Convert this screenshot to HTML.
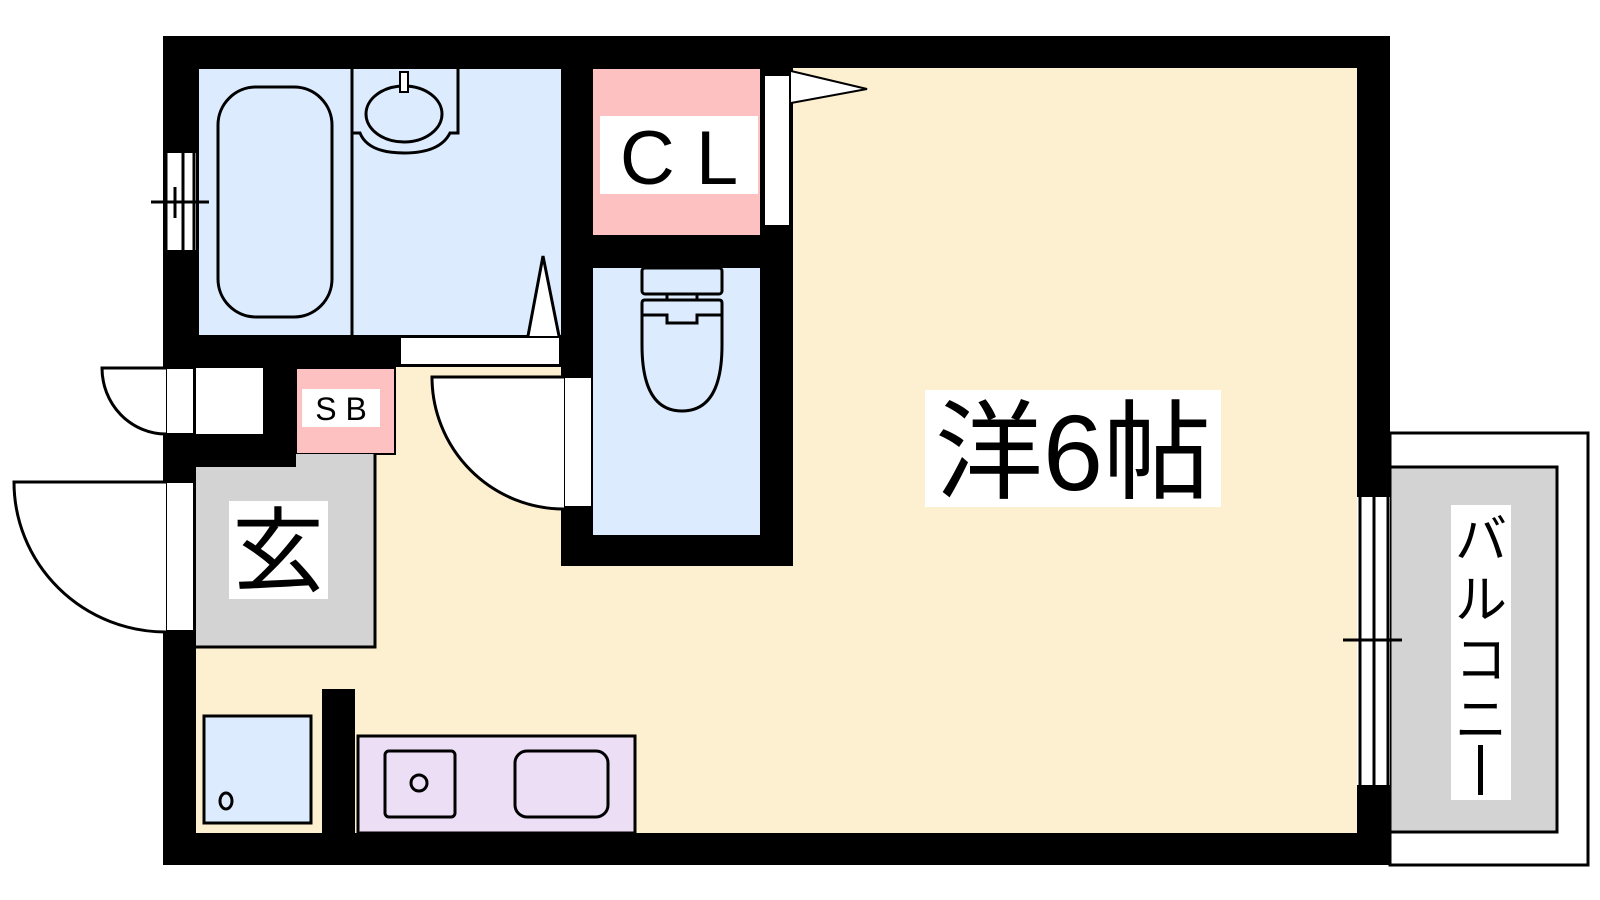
<!DOCTYPE html>
<html><head><meta charset="utf-8"><style>html,body{margin:0;padding:0;background:#fff;}svg{display:block}</style></head><body>
<svg width="1600" height="900" viewBox="0 0 1600 900" xmlns="http://www.w3.org/2000/svg">
<!-- balcony -->
<rect x="1390" y="433" width="198" height="432" fill="#fff" stroke="#000" stroke-width="3"/>
<rect x="1390" y="467" width="167" height="365" fill="#d3d3d3" stroke="#000" stroke-width="3"/>
<rect x="1451" y="505" width="60" height="295" fill="#fff"/>
<g font-family="'Liberation Sans','Noto Sans CJK JP',sans-serif" font-size="52" text-anchor="middle" fill="#000">
<text x="1481" y="558">バ</text><text x="1481" y="618">ル</text><text x="1481" y="678">コ</text><text x="1481" y="738">ニ</text>
</g>
<rect x="1478" y="745" width="5" height="50" fill="#000"/>
<!-- outer walls -->
<rect x="163" y="36" width="1227" height="829" fill="#000"/>
<rect x="196" y="68" width="1161" height="765" fill="#fdf0d0"/>
<!-- right window -->
<rect x="1357" y="497" width="33" height="288" fill="#fff"/>
<g stroke="#000" stroke-width="3"><line x1="1360" y1="497" x2="1360" y2="785"/><line x1="1374" y1="497" x2="1374" y2="785"/><line x1="1388" y1="497" x2="1388" y2="785"/><line x1="1343" y1="640" x2="1402" y2="640"/></g>
<!-- bath area -->
<rect x="196" y="36" width="397" height="331" fill="#000"/>
<rect x="199" y="69" width="362" height="266" fill="#dcebfd"/>
<line x1="352" y1="69" x2="352" y2="335" stroke="#000" stroke-width="3"/>
<rect x="218" y="87" width="114" height="230" rx="38" fill="none" stroke="#000" stroke-width="3"/>
<path d="M352 133 H360 Q368 153 404 153 Q440 153 450 133 H458 V69" fill="none" stroke="#000" stroke-width="3"/>
<ellipse cx="404" cy="114" rx="38" ry="28" fill="none" stroke="#000" stroke-width="3"/>
<rect x="400" y="72" width="8" height="20" fill="#fff" stroke="#000" stroke-width="2"/>
<rect x="401" y="338" width="158" height="26" fill="#fff"/>
<path d="M528 336 L543 256 L559 336" fill="#fff" stroke="#000" stroke-width="3"/>
<!-- left bath window -->
<rect x="166" y="153" width="30" height="97" fill="#fff"/>
<g stroke="#000" stroke-width="3"><line x1="166" y1="153" x2="166" y2="250"/><line x1="183" y1="153" x2="183" y2="250"/><line x1="194" y1="153" x2="194" y2="250"/><line x1="151" y1="202" x2="209" y2="202"/><line x1="175" y1="187" x2="175" y2="218"/></g>
<!-- CL & toilet -->
<rect x="561" y="36" width="232" height="530" fill="#000"/>
<rect x="593" y="69" width="167" height="166" fill="#fdc1c1"/>
<rect x="600" y="116" width="158" height="78" fill="#fff"/>
<text x="679" y="184" font-family="'Liberation Sans',sans-serif" font-size="76" text-anchor="middle">C L</text>
<rect x="764" y="75" width="26" height="151" fill="#fff" stroke="#000" stroke-width="2"/>
<path d="M791 71 L867 89 L791 103" fill="#fff" stroke="#000" stroke-width="2"/>
<rect x="593" y="268" width="167" height="267" fill="#dcebfd"/>
<rect x="642" y="268" width="80" height="26" rx="3" fill="none" stroke="#000" stroke-width="3"/>
<line x1="667" y1="294" x2="667" y2="300" stroke="#000" stroke-width="3"/><line x1="697" y1="294" x2="697" y2="300" stroke="#000" stroke-width="3"/>
<path d="M642 345 V303 Q642 300 645 300 H719 Q722 300 722 303 V345 Q722 411 682 411 Q642 411 642 345 Z" fill="none" stroke="#000" stroke-width="3"/>
<path d="M642 315 H667 V323 H697 V315 H722" fill="none" stroke="#000" stroke-width="3"/>
<!-- toilet door -->
<rect x="564" y="377" width="28" height="130" fill="#fff" stroke="#000" stroke-width="2"/>
<path d="M564 377 H432 A132 132 0 0 0 564 509" fill="#fff" stroke="#000" stroke-width="3"/>
<!-- SB area -->
<rect x="163" y="367" width="133" height="100" fill="#000"/>
<rect x="196" y="368" width="67" height="66" fill="#fff"/>
<rect x="296" y="368" width="99" height="86" fill="#fdc1c1" stroke="#000" stroke-width="2"/>
<rect x="302" y="389" width="78" height="38" fill="#fff"/>
<text x="341" y="420" font-family="'Liberation Sans',sans-serif" font-size="32" text-anchor="middle" font-weight="300">S B</text>
<rect x="166" y="368" width="28" height="66" fill="#fff" stroke="#000" stroke-width="2"/>
<path d="M166 368 H102 A64 66 0 0 0 166 434" fill="#fff" stroke="#000" stroke-width="3"/>
<!-- genkan -->
<path d="M196 467 H296 V454 H375 V647 H196 Z" fill="#d3d3d3"/>
<path d="M375 454 V647 H196" fill="none" stroke="#000" stroke-width="3"/>
<rect x="229" y="501" width="99" height="98" fill="#fff"/>
<text x="278" y="584" font-family="'Liberation Sans','Noto Sans CJK JP',sans-serif" font-size="92" text-anchor="middle">玄</text>
<rect x="166" y="482" width="28" height="149" fill="#fff" stroke="#000" stroke-width="2"/>
<path d="M166 482 H14 A152 150 0 0 0 166 632" fill="#fff" stroke="#000" stroke-width="3"/>
<!-- kitchen -->
<rect x="204" y="716" width="107" height="107" fill="#dcebfd" stroke="#000" stroke-width="3"/>
<ellipse cx="226" cy="801" rx="6" ry="8" fill="none" stroke="#000" stroke-width="3"/>
<rect x="322" y="689" width="33" height="144" fill="#000"/>
<rect x="358" y="736" width="277" height="97" fill="#ecdef5" stroke="#000" stroke-width="3"/>
<rect x="385" y="751" width="70" height="66" rx="4" fill="none" stroke="#000" stroke-width="3"/>
<circle cx="419" cy="783" r="8" fill="none" stroke="#000" stroke-width="3"/>
<rect x="515" y="751" width="93" height="66" rx="12" fill="none" stroke="#000" stroke-width="3"/>
<!-- main room label -->
<rect x="925" y="390" width="296" height="117" fill="#fff"/>
<text x="1073" y="490" font-family="'Liberation Sans','Noto Sans CJK JP',sans-serif" font-size="108" text-anchor="middle">洋6帖</text>
</svg>
</body></html>
